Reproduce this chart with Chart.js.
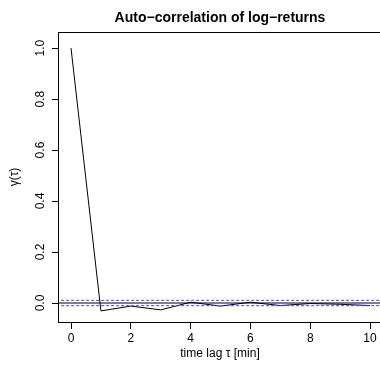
<!DOCTYPE html>
<html lang="en">
<head>
  <meta charset="UTF-8">
  <title>Auto-correlation of log-returns</title>
  <style>
    html, body {
      margin: 0;
      padding: 0;
      background: #fff;
      overflow: hidden;
    }
    /* the plot box of the original runs past the right edge of the picture */
    #frame {
      width: 380px;
      height: 371px;
      overflow: hidden;
      position: relative;
    }
    canvas { display: block; position: absolute; left: 0; top: 0; }
  </style>
</head>
<body>
  <div id="frame">
    <canvas id="acfChart" width="400" height="371"></canvas>
  </div>

  <script src="https://cdn.jsdelivr.net/npm/chart.js"></script>
  <script>
    // data
    const LAGS = [0, 1, 2, 3, 4, 5, 6, 7, 8, 9, 10];
    const ACF = [1.0, -0.031, -0.012, -0.027, 0.003, -0.012, 0.003, -0.010, -0.002, -0.005, -0.010];
    const CONF_BAND = [0.0105, -0.0105];   // blue dotted lines
    const X_TICKS = [0, 2, 4, 6, 8, 10];
    const Y_TICKS = [0.0, 0.2, 0.4, 0.6, 0.8, 1.0];

    const TITLE = 'Auto\u2212correlation of log\u2212returns';
    const X_TITLE = 'time lag \u03c4 [min]';
    const Y_TITLE = '\u03b3(\u03c4)';
    const FONT = '"Liberation Sans", Arial, Helvetica, sans-serif';

    // horizontal lines running across the whole x range
    function hline(y) {
      return [{ x: -1, y: y }, { x: 11, y: y }];
    }

    // R style decorations: box, title, axis titles, rotated y labels
    const rStyle = {
      id: 'rStyle',
      afterDraw(chart) {
        const c = chart.ctx;
        const a = chart.chartArea;
        const yScale = chart.scales.y;
        c.save();
        c.strokeStyle = '#000';
        c.lineWidth = 1;
        c.strokeRect(a.left + 0.5, a.top + 0.5, a.right - a.left, a.bottom - a.top);

        c.fillStyle = '#000';
        c.textAlign = 'center';
        c.textBaseline = 'middle';

        c.font = 'bold 14px ' + FONT;
        c.fillText(TITLE, (a.left + a.right) / 2, 18);

        c.font = '12px ' + FONT;
        c.fillText(X_TITLE, (a.left + a.right) / 2, 354);

        // y tick labels, read bottom to top
        Y_TICKS.forEach(v => {
          const py = yScale.getPixelForValue(v);
          c.save();
          c.translate(41, py);
          c.rotate(-Math.PI / 2);
          c.fillText(v.toFixed(1), 0, 0);
          c.restore();
        });

        c.save();
        c.translate(15, (a.top + a.bottom) / 2);
        c.rotate(-Math.PI / 2);
        c.fillText(Y_TITLE, 0, 0);
        c.restore();
        c.restore();
      }
    };

    new Chart(document.getElementById('acfChart'), {
      type: 'scatter',
      data: {
        datasets: [
          {
            data: hline(0),
            showLine: true,
            borderColor: '#000',
            borderWidth: 1,
            pointRadius: 0
          },
          {
            data: hline(CONF_BAND[0]),
            showLine: true,
            borderColor: '#4a3cff',
            borderWidth: 1,
            borderDash: [3, 2],
            pointRadius: 0
          },
          {
            data: hline(CONF_BAND[1]),
            showLine: true,
            borderColor: '#4a3cff',
            borderWidth: 1,
            borderDash: [3, 2],
            pointRadius: 0
          },
          {
            data: LAGS.map((x, i) => ({ x: x, y: ACF[i] })),
            showLine: true,
            borderColor: '#000',
            borderWidth: 1,
            pointRadius: 0,
            tension: 0
          }
        ]
      },
      options: {
        responsive: false,
        devicePixelRatio: 1,
        animation: false,
        events: [],
        layout: { padding: { top: 32, right: 18, left: 0, bottom: 0 } },
        plugins: {
          legend: { display: false },
          title: { display: false },
          tooltip: { enabled: false }
        },
        scales: {
          x: {
            type: 'linear',
            min: -0.435,
            max: 10.4,
            afterBuildTicks: s => { s.ticks = X_TICKS.map(v => ({ value: v })); },
            afterFit: s => { s.height = 49; },
            grid: {
              drawOnChartArea: false,
              drawTicks: true,
              tickLength: 7,
              color: '#000'
            },
            border: { display: true, color: '#000' },
            ticks: {
              color: '#000',
              font: { family: FONT, size: 12 },
              padding: 2,
              maxRotation: 0
            }
          },
          y: {
            type: 'linear',
            min: -0.0745,
            max: 1.063,
            afterBuildTicks: s => { s.ticks = Y_TICKS.map(v => ({ value: v })); },
            afterFit: s => { s.width = 58; },
            grid: {
              drawOnChartArea: false,
              drawTicks: true,
              tickLength: 6,
              color: '#000'
            },
            border: { display: true, color: '#000' },
            ticks: { display: false }
          }
        }
      },
      plugins: [rStyle]
    });
  </script>
</body>
</html>
